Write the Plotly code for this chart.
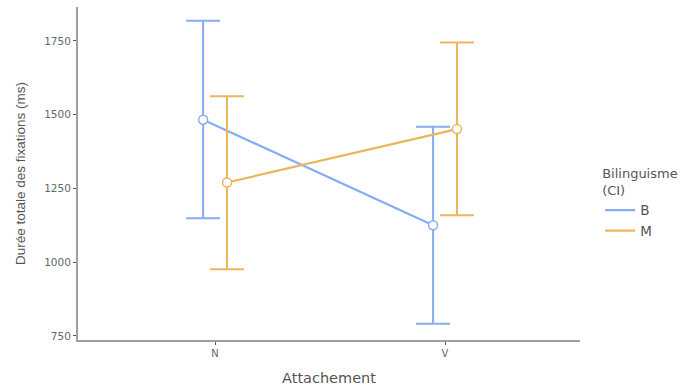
import plotly.graph_objects as go

categories = ["N", "V"]
groups = ["B", "M"]
mean_B = [1483, 1125]
low_B = [1149, 791]
high_B = [1818, 1459]
mean_M = [1270, 1451]
low_M = [976, 1159]
high_M = [1562, 1745]

colors = {"B": "#86adf3", "M": "#ecb55c"}
dodge = {"B": -0.052, "M": 0.052}
data = {"B": (mean_B, low_B, high_B), "M": (mean_M, low_M, high_M)}

WIDE = "DejaVu Sans, Verdana, sans-serif"
NARROW = "Liberation Sans, Arial, sans-serif"

fig = go.Figure()
for g in groups:
    m, lo, hi = data[g]
    xs = [i + 1 + dodge[g] for i in range(len(categories))]
    fig.add_trace(go.Scatter(
        x=xs, y=m, mode="lines+markers", showlegend=False,
        line=dict(color=colors[g], width=2.2),
        marker=dict(color="white", size=9, line=dict(color=colors[g], width=1.5)),
        error_y=dict(type="data", symmetric=False,
                     array=[h - v for h, v in zip(hi, m)],
                     arrayminus=[v - l for v, l in zip(m, lo)],
                     color=colors[g], thickness=2, width=17),
    ))
for g in groups:
    fig.add_trace(go.Scatter(x=[None], y=[None], mode="lines", name=g,
                             line=dict(color=colors[g], width=2.2)))

fig.update_layout(
    width=693, height=389,
    margin=dict(l=78, r=113, t=7, b=49, autoexpand=False),
    plot_bgcolor="white", paper_bgcolor="white",
    font=dict(family=NARROW, color="#555"),
    xaxis=dict(range=[0.404, 2.587], tickvals=[1, 2], ticktext=categories,
               showgrid=False, zeroline=False, showline=True, linecolor="#a0a0a0",
               linewidth=2, ticks="outside", ticklen=3, tickcolor="#555",
               tickfont=dict(family=WIDE, size=10, color="#666"), automargin=False,
               title=dict(text="Attachement", font=dict(family=WIDE, size=14.5, color="#555"))),
    yaxis=dict(range=[736, 1865], tickvals=[750, 1000, 1250, 1500, 1750], tickformat="d",
               showgrid=False, zeroline=False, showline=True, linecolor="#a0a0a0",
               linewidth=2, ticks="outside", ticklen=3, tickcolor="#555",
               tickfont=dict(family=WIDE, size=10.5, color="#666"), automargin=False,
               title=dict(text="Durée totale des fixations (ms)", font=dict(family=NARROW, size=13.5, color="#555"))),
    legend=dict(title=dict(text="Bilinguisme<br>(CI)", font=dict(family=WIDE, size=13, color="#555")),
                font=dict(family=WIDE, size=13.5, color="#555"),
                xref="container", yref="container", x=0.866, y=1 - 161 / 389,
                xanchor="left", yanchor="top", tracegroupgap=0, itemwidth=30),
)

fig.write_html("out.html", config={"displayModeBar": False})
with open("out.html", encoding="utf-8") as f:
    html = f.read()
html = html.replace("<head>", "<head><style>html,body{margin:0;padding:0;overflow:hidden;}</style>", 1)
with open("out.html", "w", encoding="utf-8") as f:
    f.write(html)
